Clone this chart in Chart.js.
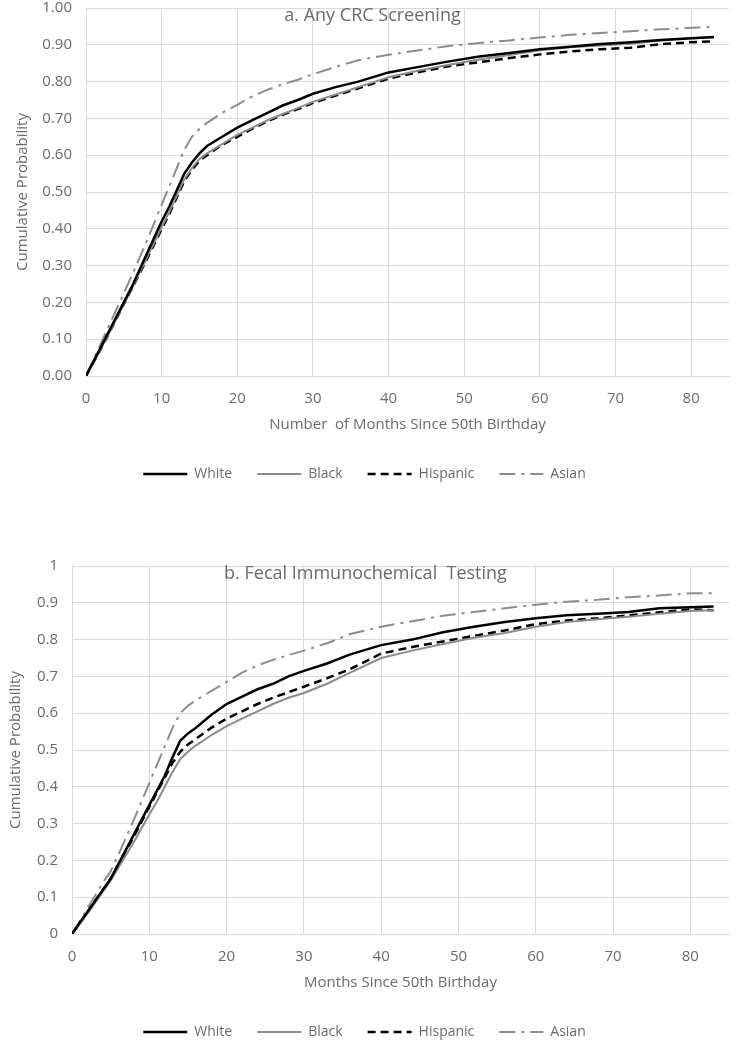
<!DOCTYPE html>
<html>
<head>
<meta charset="utf-8">
<script src="https://cdn.jsdelivr.net/npm/chart.js@4.4.1/dist/chart.umd.min.js"></script>
<style>
  html, body { margin: 0; background: #fff; overflow: hidden; }
  #boxA { position: absolute; left: 0; top: -15px; width: 737px; height: 518px; }
  #boxB { position: absolute; left: 0; top: 543px; width: 737px; height: 518px; }
</style>
</head>
<body>
<div id="boxA"><canvas id="chartA"></canvas></div>
<div id="boxB"><canvas id="chartB"></canvas></div>
<script>
// panel a - any CRC screening
const monthsA = [0, 2, 4, 6, 8, 10, 11, 12, 13, 14, 15, 16, 18, 20, 22, 24, 26, 28, 30, 33, 36, 40, 44, 48, 52, 56, 60, 64, 68, 72, 76, 80, 83];
const whiteA    = [0, 0.08, 0.16, 0.24, 0.33, 0.42, 0.46, 0.505, 0.55, 0.58, 0.605, 0.625, 0.65, 0.675, 0.695, 0.715, 0.735, 0.75, 0.767, 0.785, 0.80, 0.825, 0.84, 0.855, 0.868, 0.878, 0.888, 0.895, 0.902, 0.907, 0.913, 0.918, 0.921];
const blackA    = [0, 0.075, 0.155, 0.235, 0.32, 0.405, 0.445, 0.49, 0.535, 0.565, 0.59, 0.605, 0.63, 0.655, 0.675, 0.695, 0.712, 0.728, 0.745, 0.765, 0.785, 0.812, 0.83, 0.846, 0.86, 0.872, 0.885, 0.893, 0.898, 0.903, 0.912, 0.918, 0.92];
const hispanicA = [0, 0.075, 0.155, 0.235, 0.315, 0.40, 0.44, 0.485, 0.53, 0.56, 0.585, 0.60, 0.628, 0.65, 0.672, 0.692, 0.71, 0.725, 0.742, 0.762, 0.782, 0.808, 0.826, 0.842, 0.853, 0.864, 0.874, 0.882, 0.888, 0.892, 0.902, 0.907, 0.909];
const asianA    = [0, 0.09, 0.18, 0.27, 0.365, 0.465, 0.515, 0.565, 0.615, 0.65, 0.672, 0.688, 0.715, 0.737, 0.76, 0.778, 0.793, 0.805, 0.82, 0.84, 0.858, 0.873, 0.885, 0.897, 0.905, 0.912, 0.92, 0.927, 0.932, 0.937, 0.942, 0.946, 0.949];

// panel b - fecal immunochemical testing
const monthsB = [0, 2, 4, 5, 6, 8, 10, 11, 12, 13, 14, 15, 16, 18, 20, 22, 24, 26, 28, 30, 33, 36, 40, 44, 48, 52, 56, 60, 64, 68, 72, 76, 80, 83];
const whiteB    = [0, 0.06, 0.12, 0.15, 0.19, 0.27, 0.35, 0.39, 0.43, 0.48, 0.525, 0.545, 0.56, 0.595, 0.625, 0.645, 0.665, 0.68, 0.70, 0.715, 0.735, 0.76, 0.785, 0.80, 0.82, 0.835, 0.848, 0.858, 0.866, 0.87, 0.875, 0.885, 0.888, 0.89];
const blackB    = [0, 0.055, 0.115, 0.145, 0.18, 0.25, 0.325, 0.36, 0.40, 0.44, 0.475, 0.495, 0.512, 0.54, 0.565, 0.585, 0.605, 0.625, 0.642, 0.655, 0.68, 0.71, 0.75, 0.77, 0.788, 0.805, 0.818, 0.835, 0.848, 0.855, 0.862, 0.87, 0.878, 0.88];
const hispanicB = [0, 0.06, 0.12, 0.15, 0.19, 0.265, 0.345, 0.385, 0.425, 0.465, 0.495, 0.515, 0.53, 0.56, 0.585, 0.605, 0.625, 0.642, 0.657, 0.672, 0.695, 0.72, 0.762, 0.78, 0.795, 0.81, 0.825, 0.842, 0.852, 0.858, 0.866, 0.874, 0.882, 0.88];
const asianB    = [0, 0.07, 0.14, 0.17, 0.215, 0.31, 0.41, 0.46, 0.51, 0.56, 0.60, 0.62, 0.635, 0.66, 0.685, 0.71, 0.73, 0.745, 0.758, 0.77, 0.79, 0.815, 0.835, 0.85, 0.865, 0.875, 0.885, 0.895, 0.903, 0.908, 0.915, 0.92, 0.926, 0.926];

const groups = ["White", "Black", "Hispanic", "Asian"];
const xTicks = [0, 10, 20, 30, 40, 50, 60, 70, 80];
const yTicks = [0, 0.1, 0.2, 0.3, 0.4, 0.5, 0.6, 0.7, 0.8, 0.9, 1];

const textGray = "#6b6b6b";
const gridGray = "#d9d9d9";
const fontName = "'Open Sans', sans-serif";

// line look for each group
const looks = [
  { color: "#000000", width: 2.5, dash: [] },
  { color: "#8c8c8c", width: 2, dash: [] },
  { color: "#000000", width: 2.5, dash: [8, 5] },
  { color: "#8c8c8c", width: 2, dash: [16, 6, 3, 6] }
];

// draws the panel caption inside the plot
const captionPlugin = {
  id: "caption",
  afterDraw(chart, args, opts) {
    const a = chart.chartArea;
    const ctx = chart.ctx;
    ctx.save();
    ctx.font = "18px " + fontName;
    ctx.fillStyle = textGray;
    ctx.textAlign = "center";
    ctx.textBaseline = "middle";
    ctx.fillText(opts.text, (a.left + a.right) / 2 - 35, a.top + 8);
    ctx.restore();
  }
};

// legend items keep the dash pattern of their line
function legendLabels(chart) {
  const items = Chart.defaults.plugins.legend.labels.generateLabels(chart);
  items.forEach(function (it) {
    const ds = chart.data.datasets[it.datasetIndex];
    it.lineDash = ds.borderDash;
    it.lineWidth = ds.borderWidth;
    it.strokeStyle = ds.borderColor;
  });
  return items;
}

function makeChart(id, caption, xTitle, months, series, yFormat, yWidth, yTitlePad) {
  const datasets = series.map(function (vals, i) {
    return {
      label: groups[i],
      data: vals.map(function (v, k) { return { x: months[k], y: v }; }),
      borderColor: looks[i].color,
      backgroundColor: looks[i].color,
      borderWidth: looks[i].width,
      borderDash: looks[i].dash,
      pointRadius: 0,
      tension: 0,
      fill: false
    };
  });

  return new Chart(document.getElementById(id), {
    type: "line",
    data: { datasets: datasets },
    plugins: [captionPlugin],
    options: {
      responsive: true,
      maintainAspectRatio: false,
      animation: false,
      layout: { padding: { left: 0, right: 8, top: 7, bottom: 12 } },
      plugins: {
        caption: { text: caption },
        tooltip: { enabled: false },
        legend: {
          position: "bottom",
          labels: {
            usePointStyle: true,
            pointStyleWidth: 44,
            pointStyle: "line",
            boxHeight: 14,
            padding: 25,
            color: textGray,
            font: { family: fontName, size: 14 },
            generateLabels: legendLabels
          }
        }
      },
      scales: {
        x: {
          type: "linear",
          min: 0,
          max: 85,
          afterBuildTicks: function (axis) {
            axis.ticks = xTicks.map(function (v) { return { value: v }; });
          },
          afterFit: function (scale) { scale.height = 66; },
          grid: { color: gridGray, drawTicks: false },
          border: { color: gridGray },
          ticks: {
            padding: 14,
            color: textGray,
            font: { family: fontName, size: 15 }
          },
          title: {
            display: true,
            text: xTitle,
            color: textGray,
            font: { family: fontName, size: 15 },
            padding: { top: 4, bottom: 8 }
          }
        },
        y: {
          min: 0,
          max: 1,
          afterBuildTicks: function (axis) {
            axis.ticks = yTicks.map(function (v) { return { value: v }; });
          },
          afterFit: function (scale) { scale.width = yWidth; },
          grid: { color: gridGray, drawTicks: false },
          border: { color: gridGray },
          ticks: {
            padding: 14,
            color: textGray,
            font: { family: fontName, size: 15 },
            callback: yFormat
          },
          title: {
            display: true,
            text: "Cumulative Probability",
            color: textGray,
            font: { family: fontName, size: 15 },
            padding: { top: yTitlePad, bottom: 0 }
          }
        }
      }
    }
  });
}

makeChart("chartA", "a. Any CRC Screening", "Number  of Months Since 50th Birthday", monthsA,
  [whiteA, blackA, hispanicA, asianA],
  function (v) { return v.toFixed(2); }, 86, 14);

makeChart("chartB", "b. Fecal Immunochemical  Testing", "Months Since 50th Birthday", monthsB,
  [whiteB, blackB, hispanicB, asianB],
  function (v) { return String(Number(v.toFixed(1))); }, 72, 7);
</script>
</body>
</html>
